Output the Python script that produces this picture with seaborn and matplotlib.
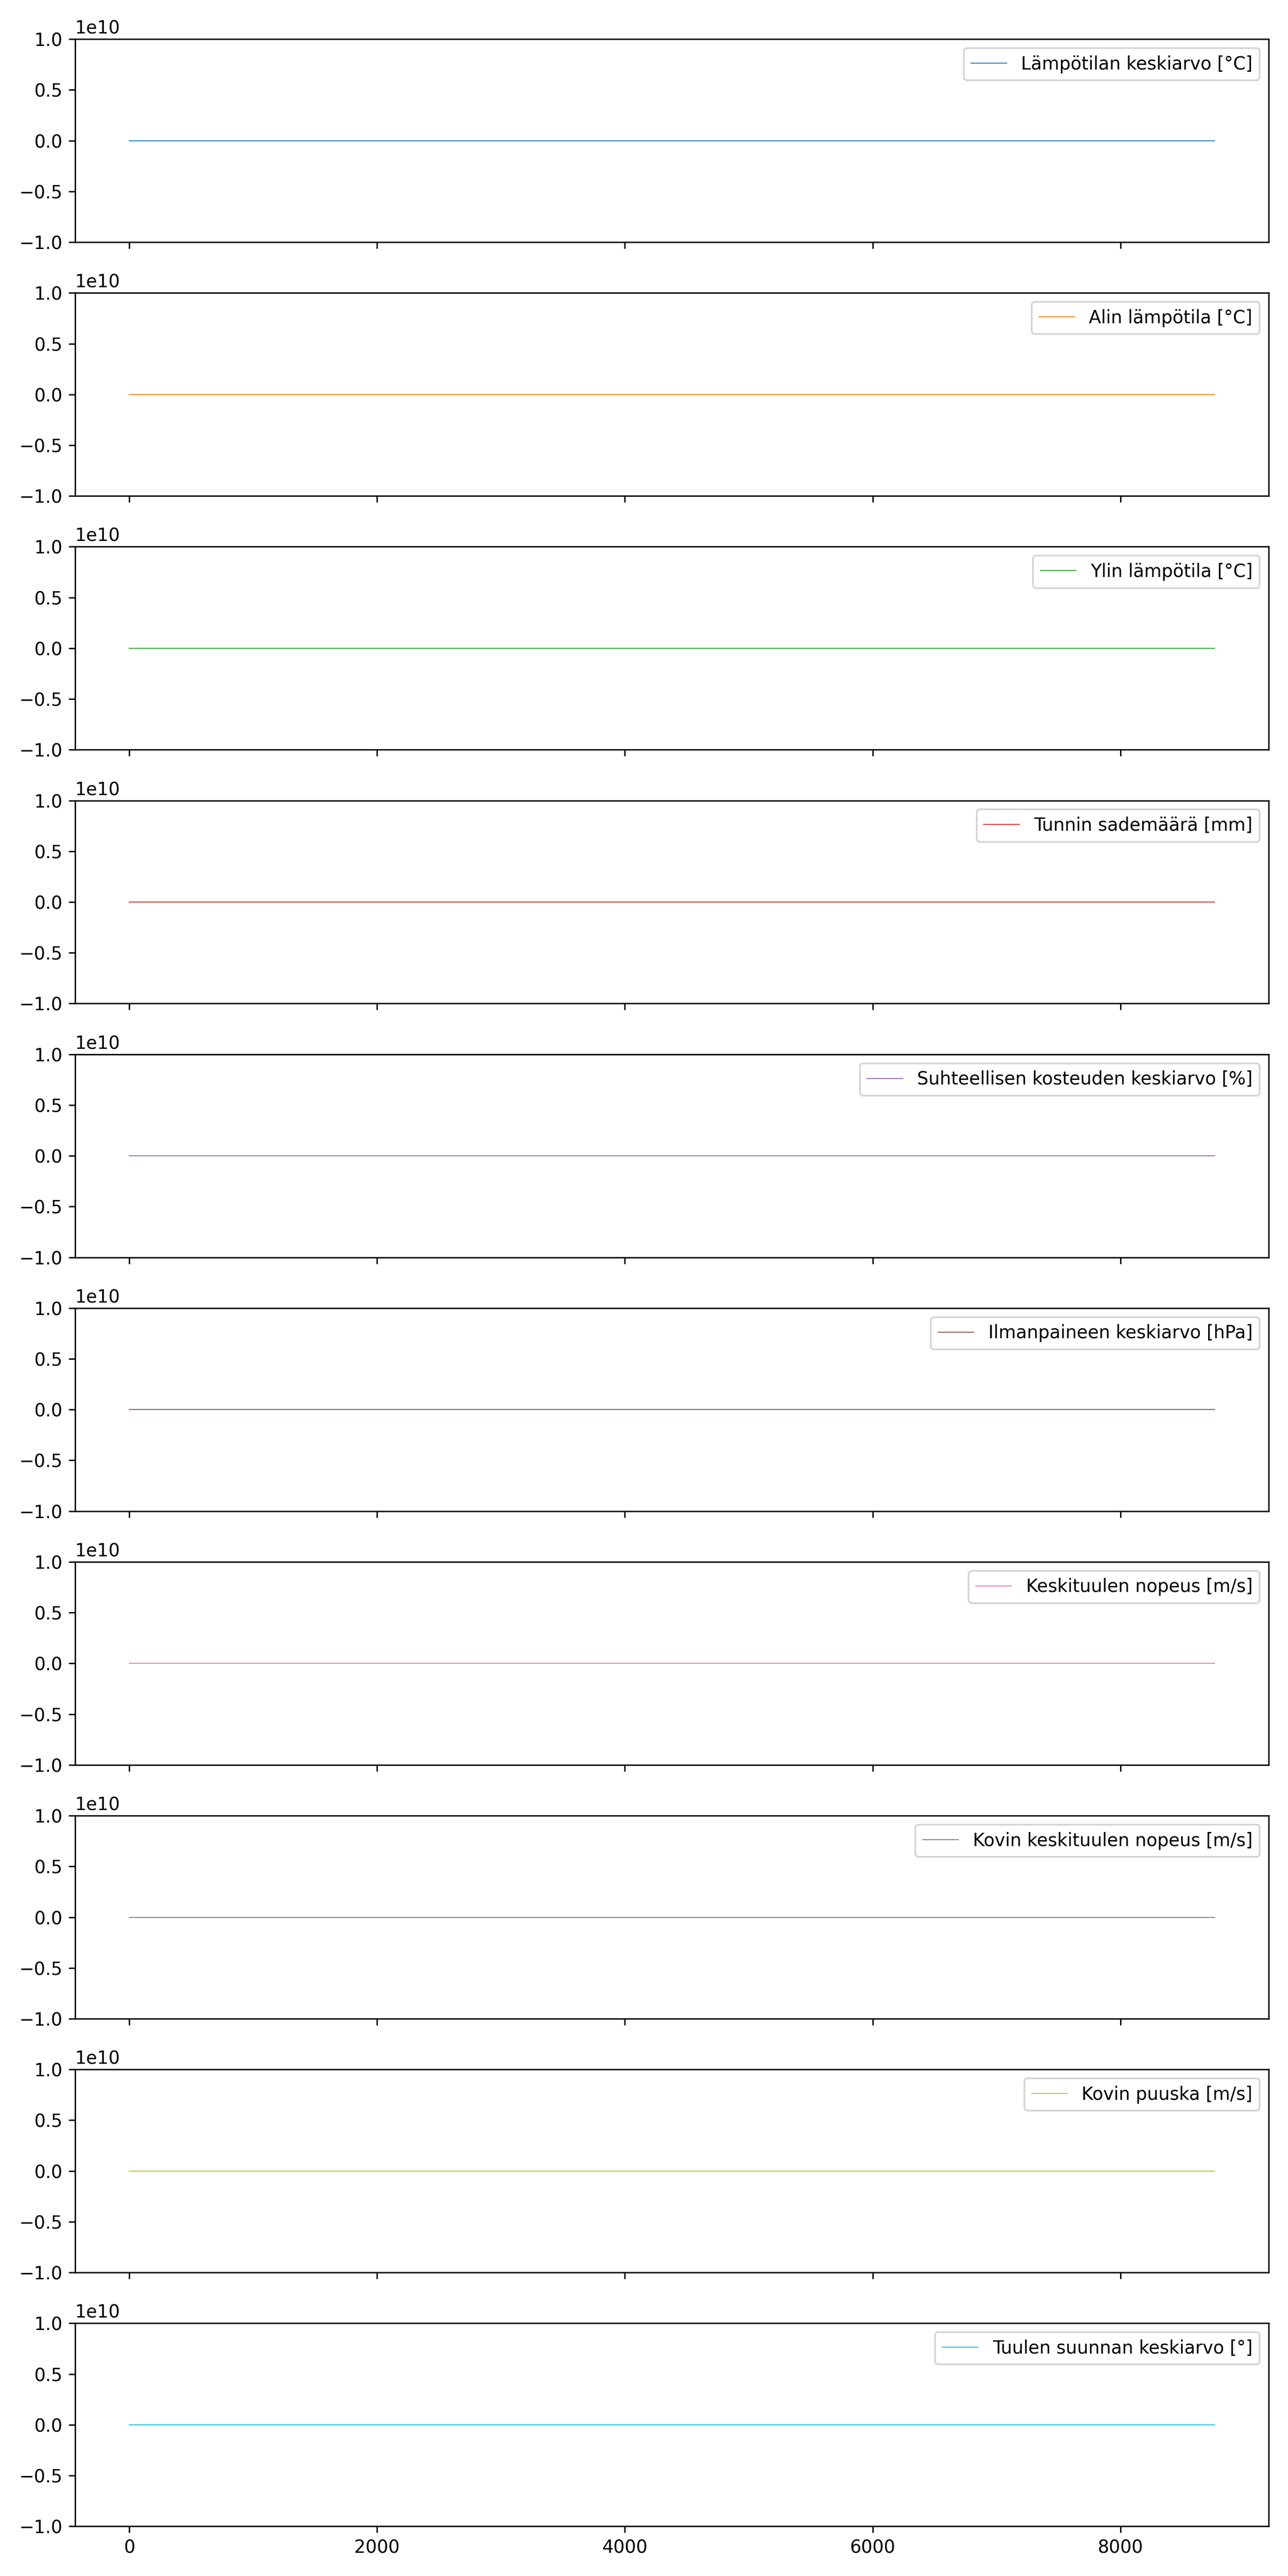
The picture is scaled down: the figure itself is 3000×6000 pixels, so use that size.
import matplotlib
matplotlib.use("Agg")
import matplotlib.pyplot as plt
import seaborn as sns
import pandas as pd

# Hour index (start and end of the series) and values (flat at 0)
hours = [0, 8759]
series_names = [
    "Lämpötilan keskiarvo [°C]",
    "Alin lämpötila [°C]",
    "Ylin lämpötila [°C]",
    "Tunnin sademäärä [mm]",
    "Suhteellisen kosteuden keskiarvo [%]",
    "Ilmanpaineen keskiarvo [hPa]",
    "Keskituulen nopeus [m/s]",
    "Kovin keskituulen nopeus [m/s]",
    "Kovin puuska [m/s]",
    "Tuulen suunnan keskiarvo [°]",
]
temp_mean = [0.0, 0.0]
temp_min = [0.0, 0.0]
temp_max = [0.0, 0.0]
rain = [0.0, 0.0]
humidity = [0.0, 0.0]
pressure = [0.0, 0.0]
wind = [0.0, 0.0]
wind_max = [0.0, 0.0]
gust = [0.0, 0.0]
wind_dir = [0.0, 0.0]
all_values = [temp_mean, temp_min, temp_max, rain, humidity, pressure,
              wind, wind_max, gust, wind_dir]
y_limits = (-1e10, 1e10)

colors = sns.color_palette("tab10", 10)

fig, axes = plt.subplots(10, 1, figsize=(10, 20), dpi=300, sharex=True)
for ax, name, vals, c in zip(axes, series_names, all_values, colors):
    df = pd.DataFrame({"hour": hours, "value": vals})
    sns.lineplot(data=df, x="hour", y="value", ax=ax, color=c, lw=0.5, label=name)
    ax.set_ylim(*y_limits)
    ax.set_xlabel("")
    ax.set_ylabel("")
    ax.legend(loc="upper right")

fig.subplots_adjust(left=0.0583, right=0.985, top=0.9848, bottom=0.0193, hspace=0.25)
fig.savefig("out.png", dpi=300)
